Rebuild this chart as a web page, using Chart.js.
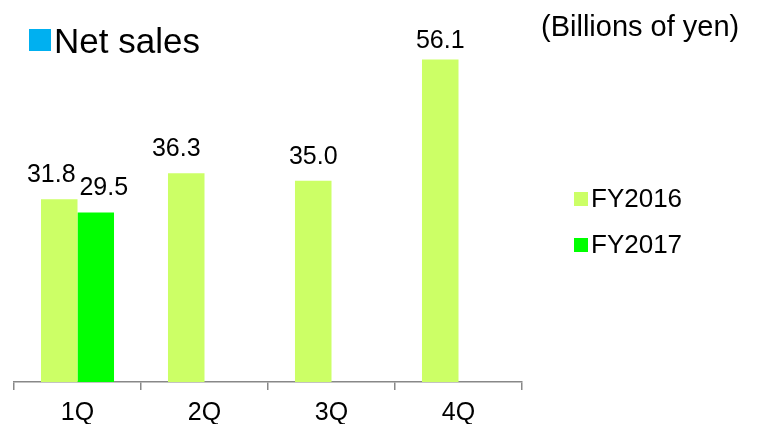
<!DOCTYPE html>
<html>
<head>
<meta charset="utf-8">
<script src="https://cdn.jsdelivr.net/npm/chart.js@4"></script>
<style>
  body { margin: 0; background: #fff; font-family: "Liberation Sans", Arial, sans-serif; }
  #wrap { position: relative; width: 761px; height: 424px; overflow: hidden; }
  #chart { position: absolute; left: 0; top: 0; }
  .txt { position: absolute; line-height: 1; color: #000; white-space: nowrap; }
  .sq { position: absolute; }
</style>
</head>
<body>
<div id="wrap">
  <canvas id="chart" width="761" height="424"></canvas>
  <div class="sq" style="left:29px;top:29px;width:22px;height:22px;background:#00B0F0"></div>
  <div class="txt" style="left:54px;top:23px;font-size:35px">Net sales</div>
  <div class="txt" style="left:541px;top:12px;font-size:29px">(Billions of yen)</div>
  <div id="legend"></div>
</div>
<script>
const quarters = ['1Q', '2Q', '3Q', '4Q'];
const seriesNames = ['FY2016', 'FY2017'];
const fy2016 = [31.8, 36.3, 35.0, 56.1];
const fy2017 = [29.5, null, null, null];
const seriesColors = ['#CCFF66', '#00FF00'];

// nudges for value labels so they don't collide (px, x only)
const labelNudge = [[-8, -10, 0, 0], [8, 0, 0, 0]];

function renderLegend() {
  const box = document.getElementById('legend');
  box.innerHTML = '';
  seriesNames.forEach((name, i) => {
    const top = 185 + i * 46;
    box.innerHTML += `
      <div class="sq" style="left:574px;top:${top + 7}px;width:14px;height:14px;background:${seriesColors[i]}"></div>
      <div class="txt" style="left:591px;top:${top}px;font-size:26px">${name}</div>`;
  });
}

const valueLabels = {
  id: 'valueLabels',
  afterDatasetsDraw(chart) {
    const ctx = chart.ctx;
    ctx.save();
    ctx.font = '25px "Liberation Sans", Arial, sans-serif';
    ctx.fillStyle = '#000';
    ctx.textAlign = 'center';
    ctx.textBaseline = 'alphabetic';
    chart.data.datasets.forEach((ds, di) => {
      chart.getDatasetMeta(di).data.forEach((bar, i) => {
        const v = ds.data[i];
        if (v == null) return;
        const y = Math.max(bar.y - 17, chart.chartArea.top + 11);
        ctx.fillText(v.toFixed(1), bar.x + labelNudge[di][i], y);
      });
    });
    ctx.restore();
  }
};

new Chart(document.getElementById('chart'), {
  type: 'bar',
  data: {
    labels: quarters,
    datasets: [
      { label: seriesNames[0], data: fy2016, backgroundColor: seriesColors[0] },
      { label: seriesNames[1], data: fy2017, backgroundColor: seriesColors[1] }
    ]
  },
  options: {
    responsive: false,
    animation: false,
    layout: { padding: { left: 14, right: 239, top: 37, bottom: 0 } },
    datasets: { bar: { categoryPercentage: 0.575, barPercentage: 1 } },
    plugins: { legend: { display: false }, tooltip: { enabled: false } },
    scales: {
      x: {
        grid: { drawOnChartArea: false, drawTicks: true, tickLength: 8, color: '#888', lineWidth: 1.5 },
        border: { color: '#888', width: 1.5 },
        ticks: { color: '#000', font: { family: '"Liberation Sans", Arial, sans-serif', size: 25 }, padding: 8 },
        afterFit(scale) { scale.height = 42; }
      },
      y: { display: false, min: 0, max: 60 }
    }
  },
  plugins: [valueLabels]
});

renderLegend();
</script>
</body>
</html>
